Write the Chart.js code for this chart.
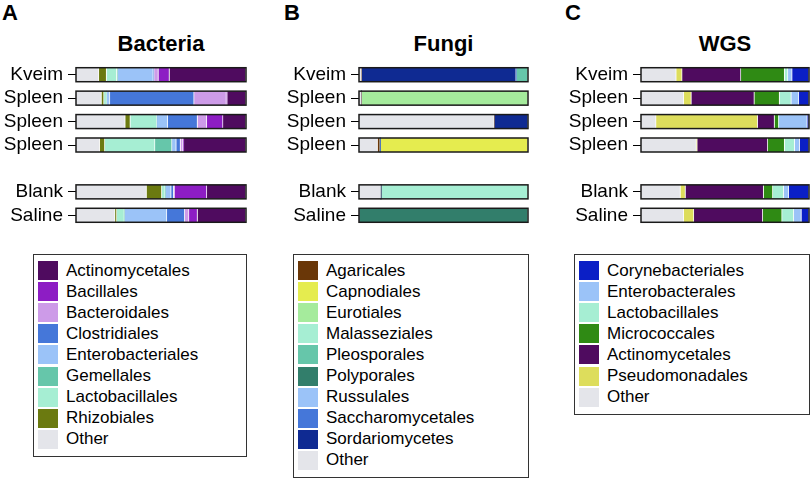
<!DOCTYPE html>
<html>
<head>
<meta charset="utf-8">
<script src="https://cdn.jsdelivr.net/npm/chart.js@4.4.0/dist/chart.umd.min.js"></script>
<style>
    body { margin: 0; width: 812px; height: 480px; background: #fff; position: relative; overflow: hidden;
           font-family: 'Liberation Sans', Arial, sans-serif; color: #000; }
    .letter { position: absolute; top: 0; font-weight: bold; font-size: 22px; }
    .title { position: absolute; top: 31px; font-weight: bold; font-size: 22px; text-align: center; }
    canvas { position: absolute; top: 62px; }
    .legend { position: absolute; top: 254px; border: 1.5px solid #333; box-sizing: border-box; padding: 5px 0 6px 4px; }
    .item { height: 21.1px; display: flex; align-items: center; font-size: 17px; }
    .swatch { width: 20px; height: 19px; margin-right: 8px; flex: none; }
</style>
</head>
<body>
<div class="letter" style="left:2px">A</div>
<div class="letter" style="left:284px">B</div>
<div class="letter" style="left:565px">C</div>

<div class="title" style="left:76px;width:170px">Bacteria</div>
<div class="title" style="left:359px;width:169px">Fungi</div>
<div class="title" style="left:641px;width:168px">WGS</div>

<canvas id="bacteriaChart" width="248" height="167" style="left:0px"></canvas>
<canvas id="fungiChart" width="260" height="167" style="left:270px"></canvas>
<canvas id="wgsChart" width="259" height="167" style="left:552px"></canvas>

<div class="legend" id="bacteriaLegend" style="left:33px;width:214px"></div>
<div class="legend" id="fungiLegend" style="left:293px;width:236px"></div>
<div class="legend" id="wgsLegend" style="left:574px;width:236px"></div>

<script>
// ==================== DATA ====================
// rows: Kveim, Spleen, Spleen, Spleen, (gap), Blank, Saline  -- relative abundance %
const rowLabels = ['Kveim', 'Spleen', 'Spleen', 'Spleen', '', 'Blank', 'Saline'];

// Bacteria (legend order)
const bacteriaTaxa = ['Actinomycetales', 'Bacillales', 'Bacteroidales', 'Clostridiales', 'Enterobacteriales',
                      'Gemellales', 'Lactobacillales', 'Rhizobiales', 'Other'];
const bacteriaColors = ['#4f0b5f', '#8d1dc4', '#cd9be8', '#4577d9', '#9bc3f8', '#66c6aa', '#a6eed3', '#6b7a10', '#e4e5ea'];
const bacteriaValues = [
    [45, 11, 13.5, 36.5, null, 23, 28.5],   // Actinomycetales
    [6.5, 0.5, 9.5, 0.5, null, 19, 5],      // Bacillales
    [2.5, 19, 5.5, 1.5, null, 0.5, 2.5],    // Bacteroidales
    [0.5, 49.5, 17.5, 2.5, null, 1.5, 10.5],// Clostridiales
    [21, 2, 6.5, 2.5, null, 3.5, 25],       // Enterobacteriales
    [0.5, 0, 0, 10, null, 0, 0],            // Gemellales
    [6, 1.5, 15.5, 29.5, null, 2, 4.5],     // Lactobacillales
    [4.5, 1.5, 3, 3, null, 9, 1],           // Rhizobiales
    [13.5, 15, 29, 14, null, 41.5, 23]      // Other
];
const bacteriaStack = ['Other', 'Rhizobiales', 'Lactobacillales', 'Gemellales', 'Enterobacteriales',
                       'Clostridiales', 'Bacteroidales', 'Bacillales', 'Actinomycetales'];

// Fungi (legend order)
const fungiTaxa = ['Agaricales', 'Capnodiales', 'Eurotiales', 'Malasseziales', 'Pleosporales', 'Polyporales',
                   'Russulales', 'Saccharomycetales', 'Sordariomycetes', 'Other'];
const fungiColors = ['#6a3708', '#e5ec4f', '#a5eb9c', '#a6eed3', '#66c6aa', '#327e6b', '#9bc3f8', '#4577d9', '#0f2a92', '#e4e5ea'];
const fungiValues = [
    [0, 0, 0, 1.5, null, 0, 0],         // Agaricales
    [0, 0, 0, 87.5, null, 0, 0],        // Capnodiales
    [0, 98.5, 0, 0, null, 0, 0],        // Eurotiales
    [0, 0, 0, 0, null, 87, 0],          // Malasseziales
    [7, 0, 0, 0, null, 0, 0],           // Pleosporales
    [0, 0, 0, 0, null, 0, 100],         // Polyporales
    [0, 0, 0, 0, null, 0, 0],           // Russulales
    [0, 0, 0, 0, null, 0, 0],           // Saccharomycetales
    [91.5, 0, 20, 0, null, 0, 0],       // Sordariomycetes
    [1.5, 1.5, 80, 11, null, 13, 0]     // Other
];
const fungiStack = ['Other', 'Agaricales', 'Sordariomycetes', 'Saccharomycetales', 'Russulales', 'Polyporales',
                    'Pleosporales', 'Malasseziales', 'Eurotiales', 'Capnodiales'];

// WGS (legend order)
const wgsTaxa = ['Corynebacteriales', 'Enterobacterales', 'Lactobacillales', 'Micrococcales',
                 'Actinomycetales', 'Pseudomonadales', 'Other'];
const wgsColors = ['#0b1fc6', '#9bc3f8', '#a6eed3', '#2f8a14', '#4f0b5f', '#dddd5c', '#e4e5ea'];
const wgsValues = [
    [10, 6, 1, 5.5, null, 12, 4.5],         // Corynebacteriales
    [2.5, 4.5, 17, 3, null, 3, 4.5],        // Enterobacterales
    [2, 7, 0, 6, null, 6.5, 7],             // Lactobacillales
    [26, 15, 2.5, 10, null, 5.5, 11.5],     // Micrococcales
    [35, 37.5, 10, 42, null, 46.5, 41],     // Actinomycetales
    [3.5, 4.5, 60.5, 0.5, null, 3, 6],      // Pseudomonadales
    [21, 25.5, 9, 33, null, 23.5, 25.5]     // Other
];
const wgsStack = ['Other', 'Pseudomonadales', 'Actinomycetales', 'Micrococcales', 'Lactobacillales',
                  'Enterobacterales', 'Corynebacteriales'];

// ==================== OUTLINE PLUGIN ====================
// black frame round each stacked bar
const barOutline = {
    id: 'barOutline',
    afterDatasetsDraw(chart) {
        const ctx = chart.ctx;
        const x = chart.scales.x, y = chart.scales.y;
        const x0 = x.getPixelForValue(0), x1 = x.getPixelForValue(100);
        ctx.save();
        ctx.strokeStyle = '#1a1a1a';
        ctx.lineWidth = 1.5;
        chart.data.labels.forEach((lab, i) => {
            if (!lab) return;
            const yc = y.getPixelForValue(i);
            ctx.strokeRect(x0, yc - 7, x1 - x0, 14);
        });
        ctx.restore();
    }
};

// ==================== BUILD CHARTS ====================
function makePanel(canvasId, legendId, taxa, colors, values, stack, axisWidth) {
    const datasets = stack.map(name => {
        const i = taxa.indexOf(name);
        return {
            label: name,
            data: values[i],
            backgroundColor: colors[i],
            borderColor: 'rgba(255, 255, 255, 0.55)',
            borderWidth: { top: 0, bottom: 0, left: 0, right: 1 },
            borderSkipped: false,
            barThickness: 14
        };
    });

    new Chart(document.getElementById(canvasId).getContext('2d'), {
        type: 'bar',
        data: { labels: rowLabels, datasets: datasets },
        options: {
            indexAxis: 'y',
            responsive: false,
            animation: false,
            layout: { padding: { top: 1, bottom: 2, left: 0, right: 2 } },
            plugins: { legend: { display: false }, tooltip: { enabled: false } },
            scales: {
                x: { stacked: true, min: 0, max: 100, display: false },
                y: {
                    stacked: true,
                    border: { display: false },
                    grid: {
                        offset: false,
                        drawOnChartArea: false,
                        tickLength: 8,
                        tickWidth: 1,
                        tickColor: ctx => (rowLabels[ctx.index] ? '#000' : 'rgba(0,0,0,0)')
                    },
                    ticks: {
                        autoSkip: false,
                        padding: 5,
                        color: '#000',
                        font: { family: "'Liberation Sans', Arial, sans-serif", size: 19 }
                    },
                    afterFit: function(scale) {
                        scale.width = axisWidth;
                        scale.paddingTop = 0;
                        scale.paddingBottom = 0;
                    }
                }
            }
        },
        plugins: [barOutline]
    });

    // legend box in legend order
    const box = document.getElementById(legendId);
    taxa.forEach((name, i) => {
        const item = document.createElement('div');
        item.className = 'item';
        const sw = document.createElement('span');
        sw.className = 'swatch';
        sw.style.background = colors[i];
        item.appendChild(sw);
        item.appendChild(document.createTextNode(name));
        box.appendChild(item);
    });
}

makePanel('bacteriaChart', 'bacteriaLegend', bacteriaTaxa, bacteriaColors, bacteriaValues, bacteriaStack, 76);
makePanel('fungiChart', 'fungiLegend', fungiTaxa, fungiColors, fungiValues, fungiStack, 89);
makePanel('wgsChart', 'wgsLegend', wgsTaxa, wgsColors, wgsValues, wgsStack, 89);
</script>
</body>
</html>
